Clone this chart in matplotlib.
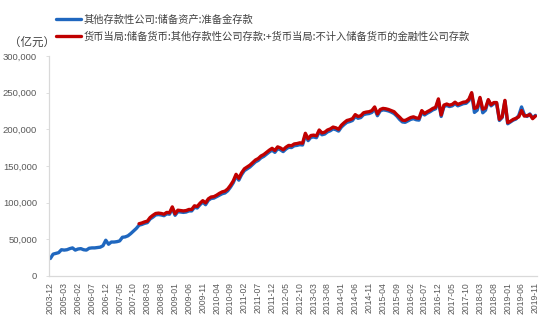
import matplotlib
matplotlib.use("Agg")
import matplotlib.pyplot as plt
from matplotlib.ticker import FuncFormatter
import numpy as np
import pandas as pd

plt.rcParams['font.family'] = ['Noto Sans CJK SC', 'DejaVu Sans']

# 日期：2003-12 至 2005-12 为季度数据，2006-01 起为月度数据
dates = list(pd.date_range("2003-12-01", "2005-12-01", freq="3MS").strftime("%Y-%m")) + \
        list(pd.date_range("2006-01-01", "2019-11-01", freq="MS").strftime("%Y-%m"))

series_blue_name = "其他存款性公司:储备资产:准备金存款"
series_red_name = "货币当局:储备货币:其他存款性公司存款:+货币当局:不计入储备货币的金融性公司存款"

# 其他存款性公司:储备资产:准备金存款（亿元）
reserve_deposits = [
    23500, 29500, 30500, 31500, 35500, 35000, 35500, 37000, 38000, 35000,
    36500, 37000, 35500, 35000, 37500, 38000, 38000, 38500, 39000, 41000,
    48500, 43000, 46000, 46000, 46500, 47500, 52500, 53000, 54500, 57500,
    61000, 64500, 69000, 70000, 71500, 72500, 77500, 80000, 83000, 83500,
    83000, 82000, 84500, 84000, 92000, 82500, 87500, 87000, 86500, 87000,
    88500, 88500, 93500, 92500, 97000, 100500, 97000, 103000, 105500, 106000,
    108000, 110000, 112000, 113000, 116000, 121000, 127000, 136000, 130500, 138000,
    143500, 146000, 148500, 152000, 155500, 157500, 161000, 163000, 166000, 169000,
    171500, 168500, 173500, 172000, 169500, 173000, 175500, 175000, 177500, 178000,
    179000, 178500, 192000, 184500, 189000, 189500, 188500, 196500, 192500, 193500,
    196500, 198000, 200500, 199500, 197500, 203000, 206500, 209500, 210500, 212000,
    217500, 215000, 216000, 220000, 221000, 221500, 223000, 228000, 218500, 225000,
    226500, 226000, 225000, 223500, 221500, 218000, 213500, 210000, 209500, 211500,
    213500, 214500, 213000, 212500, 223500, 219500, 222000, 224000, 226500, 228000,
    239500, 217500, 231000, 232500, 231000, 232000, 235000, 232000, 233500, 235000,
    235500, 239000, 248500, 223000, 226000, 242000, 222500, 226000, 239500, 232000,
    235000, 235500, 212000, 216000, 238500, 207500, 210000, 212500, 214000, 219000,
    230500, 220000, 217500, 221000, 215500, 219000,
]

# 货币当局口径合计（自 2007-12 起有数据，亿元）
red_start = "2007-12"
monetary_deposits = [
    71000, 72000, 73500, 74500, 79500, 82500, 85000, 85500,
    85000, 84000, 86500, 86000, 94000, 84500, 89500, 89000, 88500, 89000,
    90500, 90500, 95500, 94500, 99000, 102500, 99500, 105000, 107500, 108000,
    110000, 112500, 114500, 115500, 118500, 123500, 129500, 138500, 133000, 140500,
    146000, 148500, 151000, 154500, 158000, 160000, 163500, 165500, 168500, 171500,
    174000, 171000, 176000, 174500, 172000, 175500, 178000, 177500, 180000, 180500,
    181500, 181000, 194500, 187000, 191500, 192000, 191000, 199000, 195000, 196000,
    199000, 200500, 203000, 202000, 200000, 205500, 209000, 212000, 213000, 214500,
    220000, 217500, 218500, 222500, 223500, 224000, 225500, 230500, 221000, 227000,
    228500, 228000, 227000, 225500, 224000, 220000, 216500, 212500, 212000, 214000,
    216000, 217000, 215500, 215000, 225500, 221500, 224000, 226000, 228500, 230000,
    241500, 219500, 233000, 234500, 233000, 234000, 237000, 234000, 235500, 237000,
    237500, 241000, 250000, 228500, 230000, 243500, 227500, 229000, 240500, 233500,
    236500, 236500, 213500, 217000, 239500, 209000, 211000, 213500, 215000, 217000,
    225500, 218000, 218500, 220000, 214500, 218000,
]

yticks = [0, 50000, 100000, 150000, 200000, 250000, 300000]
unit_label = "（亿元）"

BLUE = "#1F67BF"
RED = "#C00000"
GRAY_TEXT = "#595959"
AXIS_GRAY = "#D9D9D9"

x = np.arange(len(dates))
start = dates.index(red_start)

fig = plt.figure(figsize=(5.5, 3.24), dpi=100)
ax = fig.add_axes([0.089, 0.149, 0.887, 0.678])

ax.plot(x, reserve_deposits, color=BLUE, lw=2.4, solid_joinstyle="round",
        solid_capstyle="round", label=series_blue_name)
ax.plot(x[start:], monetary_deposits, color=RED, lw=2.4, solid_joinstyle="round",
        solid_capstyle="round", label=series_red_name)

ax.set_xlim(-0.5, len(dates) - 0.5)
ax.set_ylim(yticks[0], yticks[-1])
ax.set_yticks(yticks)
ax.yaxis.set_major_formatter(FuncFormatter(lambda v, p: f"{v:,.0f}"))

tick_idx = x[::5]
ax.set_xticks(tick_idx)
ax.set_xticklabels([dates[i] for i in tick_idx], rotation=90,
                   fontsize=6.2, color=GRAY_TEXT, family=["Liberation Sans"])
for lab in ax.get_yticklabels():
    lab.set_fontsize(6.8)
    lab.set_color(GRAY_TEXT)
    lab.set_family(["Liberation Sans"])

ax.tick_params(axis="x", length=0, pad=4.5)
ax.tick_params(axis="y", length=2.5, width=0.6, color=AXIS_GRAY, pad=6)

for side in ("top", "right"):
    ax.spines[side].set_visible(False)
for side in ("left", "bottom"):
    ax.spines[side].set_color(AXIS_GRAY)
    ax.spines[side].set_linewidth(0.9)

fig.text(0.016, 0.870, unit_label, fontsize=8.3, color="#404040", va="center", ha="left")

leg = fig.legend(loc="upper left", bbox_to_anchor=(0.098, 0.962), frameon=False,
                 fontsize=7.4, handlelength=2.4, handletextpad=0.3,
                 labelspacing=0.65, borderaxespad=0, borderpad=0.2)
for t in leg.get_texts():
    t.set_color("#404040")

fig.savefig("out.png", dpi=100)
